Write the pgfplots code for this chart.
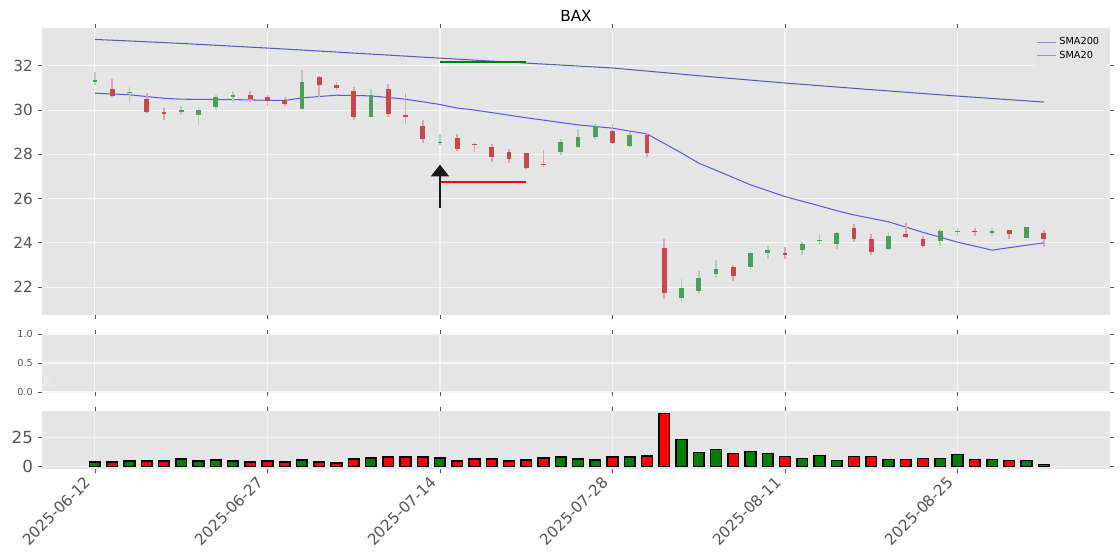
\documentclass[border=0pt]{standalone}
\usepackage{fontspec}
\setmainfont{DejaVu Sans}
\usepackage{pgfplots}
\pgfplotsset{compat=1.18}
\usepackage{pgfplotstable}
\usetikzlibrary{arrows.meta}

\definecolor{bg}{HTML}{E5E5E5}
\definecolor{tickgray}{HTML}{555555}
\definecolor{labgray}{HTML}{555555}
\definecolor{redbody}{HTML}{C8464E}
\definecolor{redwick}{HTML}{D9A9AE}
\definecolor{greenbody}{HTML}{4AA05A}
\definecolor{greenwick}{HTML}{AFD2B5}
\definecolor{smalong}{RGB}{90,90,185}
\definecolor{smashort}{RGB}{90,90,240}
\definecolor{volgreen}{HTML}{008000}

% down days: i open close high low volume
\pgfplotstableread{
i  o     c     h     l     v
1  30.96 30.64 31.40 30.57 3.7
3  30.48 29.90 30.76 29.86 4.5
4  29.89 29.84 30.11 29.56 4.5
9  30.70 30.49 30.88 30.36 3.7
10 30.61 30.42 30.66 30.20 4.5
11 30.46 30.28 30.57 30.16 3.7
13 31.47 31.13 31.52 30.61 3.7
14 31.11 31.00 31.25 30.91 2.8
15 30.88 29.68 31.02 29.56 6.2
17 30.96 29.83 31.19 29.68 8.0
18 29.76 29.70 30.76 29.38 8.0
19 29.30 28.70 29.54 28.53 8.0
21 28.73 28.23 28.92 28.17 4.5
22 28.45 28.40 28.50 28.11 6.2
23 28.35 27.88 28.46 27.63 6.2
24 28.10 27.78 28.24 27.60 4.5
25 28.05 27.38 28.08 27.35 5.4
26 27.58 27.52 28.21 27.42 7.1
30 29.07 28.52 29.38 28.48 8.0
32 28.85 28.05 28.95 27.88 8.8
33 23.78 21.73 24.16 21.46 45.0
37 22.92 22.50 23.00 22.27 11.1
40 23.55 23.45 23.81 23.28 8.5
44 24.68 24.17 24.85 24.05 8.5
45 24.19 23.58 24.38 23.47 8.5
47 24.42 24.25 24.91 24.23 6.0
48 24.15 23.86 24.31 23.80 6.8
51 24.55 24.49 24.67 24.32 6.0
53 24.57 24.40 24.59 24.15 5.1
55 24.46 24.16 24.58 23.81 1.7
}\redtab

% up days
\pgfplotstableread{
i  o     c     h     l     v
0  31.28 31.37 31.70 31.14 3.7
2  30.78 30.82 31.02 30.31 4.5
5  29.92 30.01 30.20 29.78 6.2
6  29.78 30.02 30.09 29.33 4.5
7  30.14 30.61 30.66 29.98 5.4
8  30.61 30.66 30.84 30.36 4.5
12 30.05 31.25 31.79 30.04 5.4
16 29.68 30.70 30.96 29.68 7.1
20 28.50 28.57 28.92 28.43 7.1
27 28.11 28.56 28.70 27.96 8.0
28 28.33 28.80 29.15 28.30 6.2
29 28.79 29.29 29.36 28.71 5.4
31 28.38 28.85 29.01 28.32 8.0
34 21.52 21.97 22.38 21.32 23.0
35 21.82 22.42 22.74 21.70 11.9
36 22.59 22.83 23.22 22.42 14.5
38 22.92 23.55 23.63 22.77 12.8
39 23.54 23.69 23.86 23.28 11.1
41 23.67 23.96 24.05 23.46 6.8
42 24.07 24.12 24.40 23.90 9.4
43 23.95 24.46 24.50 23.72 5.1
46 23.72 24.32 24.47 23.67 6.0
49 24.10 24.55 24.61 23.87 6.8
50 24.50 24.55 24.67 24.32 10.2
52 24.45 24.55 24.67 24.32 6.0
54 24.20 24.70 24.72 24.18 5.1
}\greentab

\pgfplotsset{
  panel/.style={
    scale only axis, width=768.96pt, anchor=south west,
    xmin=-3.07, xmax=58.84,
    axis background/.style={fill=bg},
    axis line style={draw=none},
    xmajorgrids, ymajorgrids,
    major grid style={white!65!bg, line width=0.75pt},
    tick align=outside, major tick length=3pt,
    tick style={tickgray, line width=0.6pt},
    xtick={0,10,...,50},
    ticklabel style={text=labgray},
    /pgf/number format/assume math mode=true,
  },
  wick/.style={draw=none, mark=none, forget plot,
    error bars/.cd, y dir=plus, y explicit, error mark=none,
    error bar style={draw=#1, line width=1.2pt}},
  body/.style={draw=none, mark=none, forget plot,
    error bars/.cd, y dir=plus, y explicit, error mark=none,
    error bar style={draw=#1, line width=3.4pt}},
}

\begin{document}
\begin{tikzpicture}
\useasboundingbox (0,0) rectangle (806.4pt,403.2pt);

% price panel
\begin{axis}[panel,
  at={(30.24pt,176.6pt)}, height=206.64pt,
  ymin=20.75, ymax=33.72,
  ytick={22,24,...,32},
  xticklabels={},
  yticklabel style={font=\fontsize{11}{13}\selectfont},
  title={BAX},
  title style={font=\fontsize{11}{13}\selectfont, yshift=-5pt},
  legend style={at={(0.9953,0.986)}, anchor=north east,
    fill=bg, draw=white!85!gray, rounded corners=1.5pt,
    font=\fontsize{7}{8.5}\selectfont, row sep=-1pt, inner sep=2pt},
  legend cell align=left,
  legend image code/.code={\draw[#1, opacity=0.6] (0pt,0pt) -- (14pt,0pt);},
]
\addplot[smalong, line width=0.75pt] coordinates {
  (0,33.19)(2,33.12)(5,33.01)(10,32.80)(14,32.62)(19,32.39)(25,32.12)
  (30,31.90)(35,31.55)(40,31.22)(45,30.92)(50,30.63)(55,30.36)};
\addlegendentry{SMA200}
\addplot[smashort, line width=0.75pt] coordinates {
  (0,30.76)(2,30.69)(4,30.53)(5,30.49)(8,30.47)(11,30.43)(12,30.55)
  (14,30.67)(16,30.64)(18,30.49)(20,30.25)(21,30.09)(22,30.00)(25,29.65)
  (28,29.33)(30,29.18)(32,28.92)(34,28.06)(35,27.60)(37,26.95)(38,26.62)
  (40,26.09)(42,25.67)(43,25.45)(44,25.26)(46,24.95)(48,24.47)(50,24.03)
  (52,23.67)(55,24.00)};
\addlegendentry{SMA20}

\addplot[wick=redwick] table[x=i, y=l, y error expr=\thisrow{h}-\thisrow{l}] {\redtab};
\addplot[wick=greenwick] table[x=i, y=l, y error expr=\thisrow{h}-\thisrow{l}] {\greentab};
\addplot[body=redbody] table[x=i, y=c, y error expr=\thisrow{o}-\thisrow{c}] {\redtab};
\addplot[body=greenbody] table[x=i, y=o, y error expr=\thisrow{c}-\thisrow{o}] {\greentab};

% annotations
\addplot[volgreen, line width=1.5pt, forget plot] coordinates {(20,32.15)(25,32.15)};
\addplot[red, line width=1.5pt, forget plot] coordinates {(20,26.75)(25,26.75)};
\addplot[black!90, line width=0.8pt, forget plot,
  -{Triangle[width=13pt, length=8.4pt]}] coordinates {(20,25.57)(20,27.53)};
\end{axis}

% empty middle panel
\begin{axis}[panel,
  at={(30.24pt,120.96pt)}, height=41.76pt,
  ymin=0, ymax=1,
  ytick={0,0.5,1},
  yticklabels={0.0,0.5,1.0},
  xticklabels={},
  yticklabel style={font=\fontsize{7}{8}\selectfont},
]
\draw[white!85!gray, rounded corners=1pt, line width=0.6pt]
  (rel axis cs:0.002,0.09) rectangle (rel axis cs:0.008,0.2);
\end{axis}

% volume panel
\begin{axis}[panel,
  at={(30.24pt,65.52pt)}, height=41.76pt,
  ymin=-2.25, ymax=47.25,
  ytick={0,25},
  major grid style={white!45!bg, line width=0.7pt},
  xticklabels={2025-06-12,2025-06-27,2025-07-14,2025-07-28,2025-08-11,2025-08-25},
  xticklabel style={xshift=-8pt, rotate=45, anchor=north east, inner sep=1pt,
    font=\fontsize{11}{13}\selectfont},
  yticklabel style={font=\fontsize{12}{14}\selectfont},
]
\addplot[ybar, bar width=7.6pt, bar shift=0pt, fill=red, draw=black, line width=1.1pt]
  table[x=i, y=v] {\redtab};
\addplot[ybar, bar width=7.6pt, bar shift=0pt, fill=volgreen, draw=black, line width=1.1pt]
  table[x=i, y=v] {\greentab};
\end{axis}
\end{tikzpicture}
\end{document}
